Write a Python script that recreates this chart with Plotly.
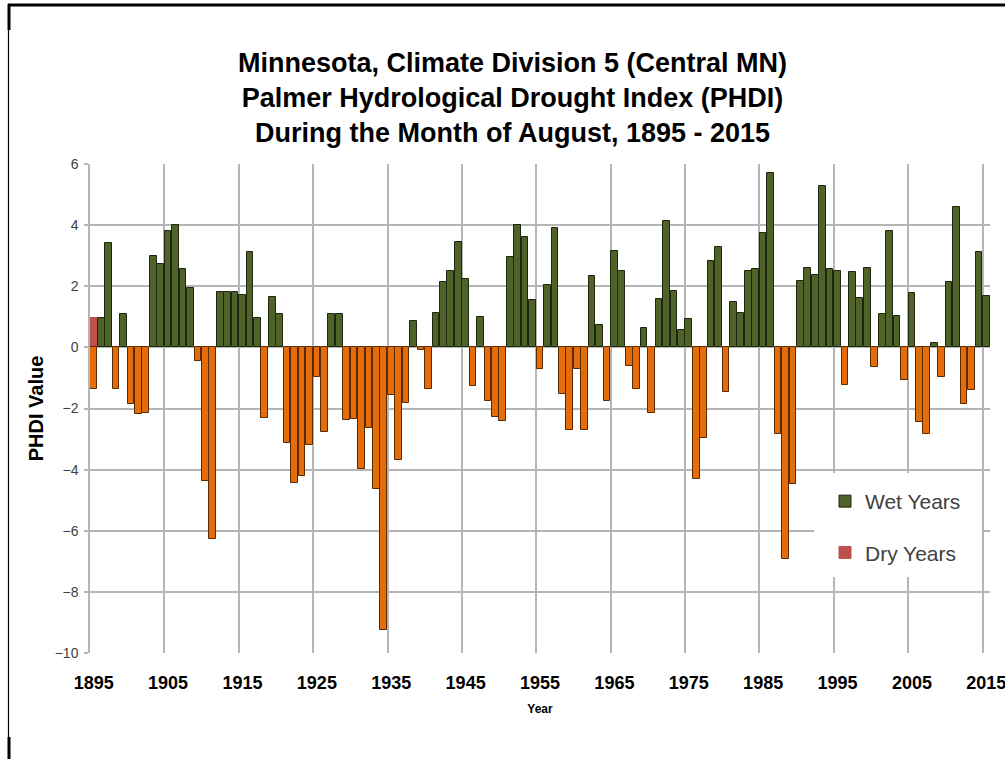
import plotly.graph_objects as go

# ---------------- data ----------------
years = list(range(1895, 2016))
phdi = [
    -1.37, 0.97, 3.42, -1.37, 1.08, -1.86, -2.19, -2.16, 2.99, 2.72,   # 1895-1904
    3.82, 4.00, 2.58, 1.93, -0.45, -4.37, -6.27, 1.82, 1.82, 1.82,     # 1905-1914
    1.71, 3.11, 0.97, -2.32, 1.65, 1.08, -3.14, -4.43, -4.21, -3.18,   # 1915-1924
    -0.96, -2.78, 1.08, 1.08, -2.38, -2.35, -3.97, -2.63, -4.62, -9.25,  # 1925-1934
    -1.56, -3.67, -1.81, 0.86, -0.10, -1.37, 1.11, 2.15, 2.50, 3.44,   # 1935-1944
    2.23, -1.27, 1.00, -1.76, -2.29, -2.40, 2.97, 4.00, 3.61, 1.54,    # 1945-1954
    -0.71, 2.04, 3.90, -1.51, -2.71, -0.71, -2.71, 2.33, 0.73, -1.76,  # 1955-1964
    3.16, 2.50, -0.61, -1.37, 0.65, -2.14, 1.57, 4.14, 1.85, 0.57,     # 1965-1974
    0.93, -4.32, -2.96, 2.82, 3.28, -1.47, 1.49, 1.13, 2.50, 2.58,     # 1975-1984
    3.75, 5.72, -2.84, -6.91, -4.46, 2.17, 2.61, 2.37, 5.28, 2.56,     # 1985-1994
    2.51, -1.24, 2.46, 1.60, 2.61, -0.63, 1.08, 3.82, 1.04, -1.07,     # 1995-2004
    1.79, -2.43, -2.82, 0.15, -0.96, 2.13, 4.58, -1.86, -1.40, 3.11,   # 2005-2014
    1.69,                                                              # 2015
]
dry_series_years = [1895]
dry_series_values = [0.97]

tick_years = list(range(1895, 2016, 10))
grid_years = [y - 0.5 for y in tick_years]
y_ticks = list(range(-10, 7, 2))

title_lines = [
    "Minnesota, Climate Division 5 (Central MN)",
    "Palmer Hydrological Drought Index (PHDI)",
    "During the Month of August, 1895 - 2015",
]

# ---------------- styling ----------------
W, H = 1005, 759
L, R, T, B = 90, 990, 164, 653
FONT = "Liberation Sans"
GREEN = "#4F6228"
ORANGE = "#E46C0A"
RED = "#C0504D"
GRID = "#B5B5B5"

wet_x = [x for x, v in zip(years, phdi) if v >= 0]
wet_y = [v for v in phdi if v >= 0]
neg_x = [x for x, v in zip(years, phdi) if v < 0]
neg_y = [v for v in phdi if v < 0]

fig = go.Figure()
fig.add_trace(go.Bar(
    x=wet_x, y=wet_y, name="Wet Years", width=0.9,
    marker=dict(color=GREEN, line=dict(color="#1E2610", width=1)),
    legendgroup="wet",
))
fig.add_trace(go.Bar(
    x=dry_series_years, y=dry_series_values, name="Dry Years", width=0.9,
    marker=dict(color=RED, line=dict(color=RED, width=1)),
    legendgroup="dry",
))
fig.add_trace(go.Bar(
    x=neg_x, y=neg_y, name="Dry (negative)", width=0.9, showlegend=False,
    marker=dict(color=ORANGE, line=dict(color="#5A2A00", width=1)),
))


def px_x(p):
    return (p - L) / (R - L)


def px_y(p):
    return (B - p) / (B - T)


shapes = [
    # white legend box hiding the gridlines behind the legend
    dict(type="rect", xref="paper", yref="paper", layer="above",
         x0=px_x(814), x1=px_x(982), y0=px_y(473), y1=px_y(577),
         fillcolor="white", line=dict(width=0)),
    # page border fragments
    dict(type="line", xref="paper", yref="paper", x0=px_x(8), x1=px_x(1005),
         y0=px_y(5), y1=px_y(5), line=dict(color="black", width=3)),
    dict(type="line", xref="paper", yref="paper", x0=px_x(9), x1=px_x(9),
         y0=px_y(4), y1=px_y(30), line=dict(color="black", width=3)),
    dict(type="line", xref="paper", yref="paper", x0=px_x(8.5), x1=px_x(8.5),
         y0=px_y(30), y1=px_y(737), line=dict(color="black", width=1.2)),
    dict(type="line", xref="paper", yref="paper", x0=px_x(9), x1=px_x(9),
         y0=px_y(737), y1=px_y(759), line=dict(color="black", width=3)),
]

fig.update_layout(
    width=W, height=H,
    margin=dict(l=L, r=W - R, t=T, b=H - B, autoexpand=False),
    paper_bgcolor="white", plot_bgcolor="white",
    barmode="overlay",
    bargap=0,
    title=dict(
        text="<br>".join(title_lines),
        x=0.51, xref="container", xanchor="center",
        y=1 - 72 / H, yref="container", yanchor="top",
        font=dict(family=FONT, size=27, color="black", weight="bold"),
    ),
    xaxis=dict(
        range=[1894.5, 2015.5], automargin=False,
        tickmode="array", tickvals=tick_years,
        ticktext=[str(t) for t in tick_years],
        showgrid=False, zeroline=False, ticks="",
        ticklabelstandoff=17, ticklabeloverflow="allow",
        tickfont=dict(family=FONT, size=18, color="black", weight="bold"),
        minor=dict(tickmode="array", tickvals=grid_years, showgrid=True,
                   gridcolor=GRID, gridwidth=1.5, ticks=""),
        title=dict(text="Year", standoff=12,
                   font=dict(family=FONT, size=12, color="black", weight="bold")),
    ),
    yaxis=dict(
        range=[-10, 6], tickmode="array", tickvals=y_ticks, automargin=False,
        showgrid=True, gridcolor=GRID, gridwidth=1.5, zeroline=False,
        showline=True, linecolor=GRID, linewidth=1.5,
        ticks="outside", ticklen=4, tickcolor=GRID, tickwidth=1.5,
        ticklabelstandoff=3,
        tickfont=dict(family=FONT, size=14, color="#404040"),
        title=dict(text="PHDI Value", standoff=6,
                   font=dict(family=FONT, size=20, color="black", weight="bold")),
    ),
    legend=dict(
        x=px_x(825), y=px_y(481), xanchor="left", yanchor="top",
        bgcolor="rgba(0,0,0,0)", borderwidth=0,
        font=dict(family=FONT, size=21, color="#404040"),
        traceorder="grouped", tracegroupgap=21,
    ),
    shapes=shapes,
)

fig.write_html(
    "out.html",
    config={"displayModeBar": False},
    post_script="document.body.style.margin='0px';document.body.style.overflow='hidden';",
)
